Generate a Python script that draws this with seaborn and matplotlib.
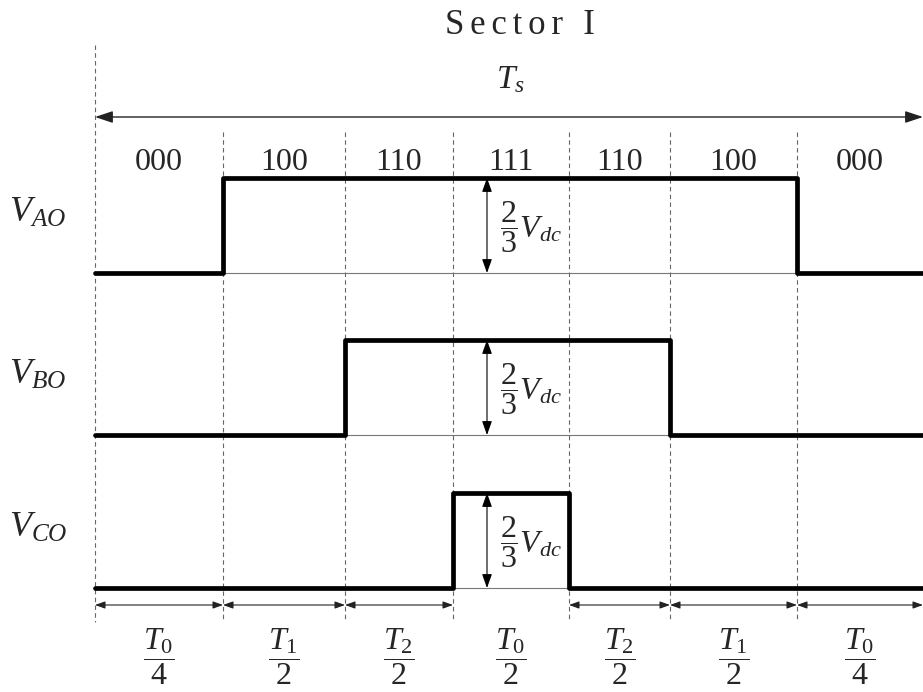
import matplotlib
matplotlib.use("Agg")
import matplotlib.pyplot as plt
import seaborn as sns
import numpy as np
import pandas as pd

# segment data
states = ['000', '100', '110', '111', '110', '100', '000']
durations = [128, 122, 108, 116, 101, 127, 126]
seg_labels = [r'$\dfrac{T_0}{4}$', r'$\dfrac{T_1}{2}$', r'$\dfrac{T_2}{2}$', r'$\dfrac{T_0}{2}$',
              r'$\dfrac{T_2}{2}$', r'$\dfrac{T_1}{2}$', r'$\dfrac{T_0}{4}$']
phases = ['AO', 'BO', 'CO']
phase_base = [273, 435, 588]   # baseline (low level) of each trace
amp = 95                       # height of the 2/3 Vdc step

sns.set_theme(style='white')
plt.rcParams['font.family'] = ['Liberation Serif', 'DejaVu Serif']
plt.rcParams['mathtext.fontset'] = 'custom'
plt.rcParams['mathtext.rm'] = 'Liberation Serif'
plt.rcParams['mathtext.it'] = 'Liberation Serif:italic'

edges = np.concatenate([[0], np.cumsum(durations)])
mids = (edges[:-1] + edges[1:]) / 2
x0 = 95  # left margin of the time axis

fig = plt.figure(figsize=(9.23, 6.92), dpi=100)
ax = fig.add_axes([0, 0, 1, 1])
ax.set_xlim(-x0, edges[-1])
ax.set_ylim(692, 0)
ax.axis('off')

# dashed time grid
for i, e in enumerate(edges[:-1]):
    top = 45 if i == 0 else 132
    ax.plot([e, e], [top, 622], color='#666666', lw=0.8, ls=(0, (4, 3)), zorder=1)

# waveforms
for k, ph in enumerate(phases):
    bits = [int(s[k]) for s in states]
    df = pd.DataFrame({'t': list(edges[:-1]) + [edges[-1]],
                       'v': [phase_base[k] - amp * b for b in bits + [bits[-1]]]})
    sns.lineplot(data=df, x='t', y='v', drawstyle='steps-post', color='black',
                 lw=3.4, estimator=None, sort=False, ax=ax, zorder=3)
    on = [i for i, b in enumerate(bits) if b]
    t0, t1 = edges[on[0]], edges[on[-1] + 1]
    ax.plot([t0, t1], [phase_base[k], phase_base[k]], color='#777777', lw=0.8, zorder=2)
    ax.text(-86, phase_base[k] - 60, '$V_{' + ph + '}$', fontsize=26, ha='left', va='center')
    # 2/3 Vdc marker
    xa = edges[3] + 34
    ax.annotate('', xy=(xa, phase_base[k] - amp), xytext=(xa, phase_base[k]),
                arrowprops=dict(arrowstyle='<|-|>,head_length=0.7,head_width=0.25',
                                color='black', lw=0.8, shrinkA=0, shrinkB=0), zorder=4)
    ax.text(xa + 13, phase_base[k] - amp / 2 + 2, r'$\dfrac{2}{3}V_{dc}$', fontsize=23,
            ha='left', va='center')
ax.set_xlabel('')
ax.set_ylabel('')

# state labels
for m, s in zip(mids, states):
    ax.text(m, 162, s, fontsize=23, ha='center', va='center')

# Ts arrow
ax.annotate('', xy=(0, 117), xytext=(edges[-1], 117),
            arrowprops=dict(arrowstyle='<|-|>,head_length=0.9,head_width=0.3',
                            color='#222222', lw=1.0, shrinkA=0, shrinkB=0))
ax.text(510 - x0, 80, '$T_s$', fontsize=24, ha='center', va='center')

# bottom duration arrows and labels
for i in range(len(durations)):
    if i != 3:
        ax.annotate('', xy=(edges[i], 605), xytext=(edges[i + 1], 605),
                    arrowprops=dict(arrowstyle='<|-|>,head_length=0.5,head_width=0.18',
                                    color='#222222', lw=0.8, shrinkA=0, shrinkB=0))
    ax.text(mids[i], 657, seg_labels[i], fontsize=23, ha='center', va='center')

ax.text(520 - x0, 25, '\u200a\u200a'.join('Sector I'), fontsize=25, ha='center', va='center')

fig.savefig('out.png', dpi=100, facecolor='white')
